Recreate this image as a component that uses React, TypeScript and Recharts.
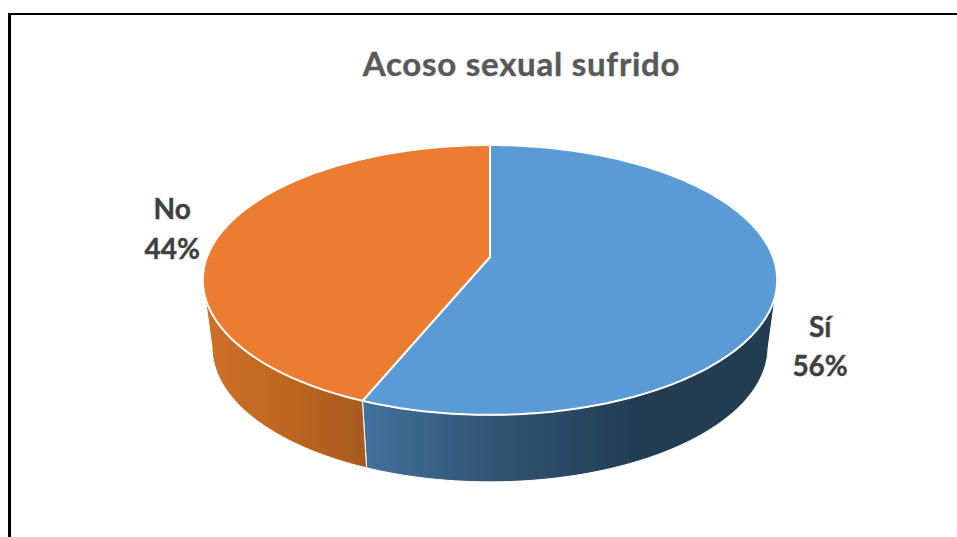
import React from "react";
import { PieChart, Pie } from "recharts";

const categories = ["Sí", "No"];
const shares = [56.2, 43.8];
const topColors = ["#5b9bd5", "#eb7c31"];
const chartTitle = "Acoso sexual sufrido";

const rows = categories.map((name, i) => ({ name, value: shares[i], fill: topColors[i] }));

const W = 957;
const H = 537;
const CX = 490;
const CY = 257;
const R = 283;
const SQUASH = 0.463;
const PERSP = -0.17;
const DEPTH = 67;
const SHRINK = 0.968;
const FONT = "Lato, Carlito, 'Open Sans', sans-serif";

const wallStops: Record<string, [number, string, number, string, number, string]> = {
  "#5b9bd5": [365, "#41719c", 500, "#315372", 640, "#223c52"],
  "#eb7c31": [205, "#cf7029", 300, "#b9641f", 365, "#a85a20"],
};

function rim(cx: number, cy: number, r: number, deg: number) {
  const a = (deg * Math.PI) / 180;
  const u = Math.cos(a);
  const v = -Math.sin(a);
  const d = 1 + PERSP * v;
  return { x: cx + (r * u) / d, y: cy + (SQUASH * r * v) / d, v };
}

function samples(from: number, to: number) {
  const n = Math.max(2, Math.ceil(Math.abs(to - from)));
  return Array.from({ length: n + 1 }, (_, i) => from + ((to - from) * i) / n);
}

const toPath = (p: { x: number; y: number }[]) =>
  "M" + p.map((q) => `${q.x.toFixed(2)},${q.y.toFixed(2)}`).join("L") + "Z";

function Slice3D(props: any) {
  const { cx, cy, outerRadius, startAngle, endAngle, fill } = props;
  const hi = Math.max(startAngle, endAngle);
  const lo = Math.min(startAngle, endAngle);
  const top = samples(hi, lo).map((d) => rim(cx, cy, outerRadius, d));
  const tangentV = 0.17;
  const front = samples(hi, lo)
    .map((d) => rim(cx, cy, outerRadius, d))
    .filter((p) => p.v >= tangentV);
  const bottom = front.map((p) => ({
    x: cx + (p.x - cx) * SHRINK,
    y: p.y + DEPTH,
  }));
  const wall = [...front, ...bottom.slice().reverse()];
  const gid = `wall-${String(fill).slice(1)}`;
  const st = wallStops[fill];
  const span = st[4] - st[0];
  return (
    <g>
      <defs>
        <linearGradient id={gid} gradientUnits="userSpaceOnUse" x1={st[0]} x2={st[4]} y1={0} y2={0}>
          <stop offset={0} stopColor={st[1]} />
          <stop offset={(st[2] - st[0]) / span} stopColor={st[3]} />
          <stop offset={1} stopColor={st[5]} />
        </linearGradient>
      </defs>
      <path d={toPath(wall)} fill={`url(#${gid})`} stroke="#ffffff" strokeWidth={1} strokeLinejoin="round" />
      <path
        d={toPath([{ x: cx, y: cy }, ...top])}
        fill={fill}
        stroke="#ffffff"
        strokeWidth={2}
        strokeLinejoin="round"
      />
    </g>
  );
}

function SliceLabel(props: any) {
  const { midAngle, index, name, percent } = props;
  const p = rim(CX, CY, R, midAngle);
  const x = p.x + (index === 0 ? 43 : -49);
  const y = p.y + (index === 0 ? 63 : -3);
  return (
    <text
      x={x}
      textAnchor="middle"
      fontFamily={FONT}
      fontWeight={700}
      fontSize={28}
      fill="#404040"
      stroke="#404040"
      strokeWidth={0.4}
    >
      <tspan x={x} y={index === 0 ? y - 9 : y - 10}>{name}</tspan>
      <tspan x={x} y={y + 30}>{`${Math.round(percent * 100)}%`}</tspan>
    </text>
  );
}

export default function App() {
  return (
    <div style={{ position: "absolute", left: 0, top: 0, width: W, height: H, overflow: "hidden", background: "#ffffff" }}>
      <div
        style={{
          position: "absolute",
          left: 8,
          top: 13,
          width: W + 40,
          height: H + 40,
          borderLeft: "3px solid #000000",
          borderTop: "2.5px solid #000000",
          boxSizing: "border-box",
        }}
      />
      <div
        style={{
          position: "absolute",
          left: 0,
          width: 1043,
          top: 42,
          textAlign: "center",
          fontFamily: FONT,
          fontWeight: 700,
          fontSize: 33,
          letterSpacing: "0.75px",
          WebkitTextStroke: "0.4px #595959",
          lineHeight: "42px",
          color: "#595959",
        }}
      >
        {chartTitle}
      </div>
      <div style={{ position: "absolute", left: 0, top: 0 }}>
        <PieChart width={W} height={H} margin={{ top: 0, right: 0, bottom: 0, left: 0 }}>
          <Pie
            data={rows}
            dataKey="value"
            nameKey="name"
            cx={CX}
            cy={CY}
            innerRadius={0}
            outerRadius={R}
            startAngle={90}
            endAngle={-270}
            stroke="none"
            labelLine={false}
            label={SliceLabel}
            shape={Slice3D}
            isAnimationActive={false}
          />
        </PieChart>
      </div>
    </div>
  );
}
